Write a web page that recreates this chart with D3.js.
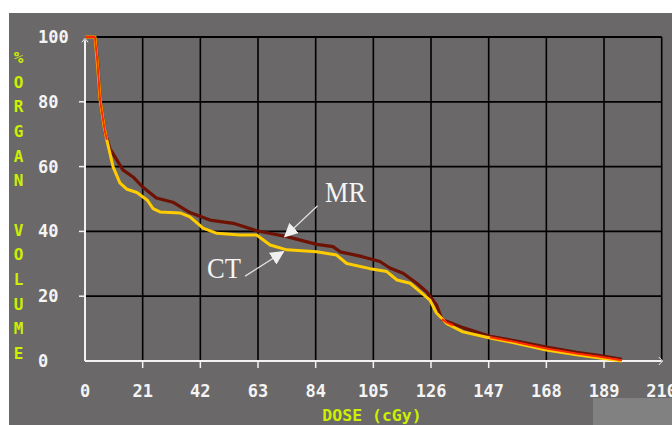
<!DOCTYPE html>
<html>
<head>
<meta charset="utf-8">
<script src="https://cdn.jsdelivr.net/npm/d3@7"></script>
<style>
  html, body { margin: 0; padding: 0; background: #fff; }
  svg { display: block; }
</style>
</head>
<body>
<div id="chart"></div>
<script>
// tick values
var xTicks = [0, 21, 42, 63, 84, 105, 126, 147, 168, 189, 210];
var yTicks = [0, 20, 40, 60, 80, 100];

// CT curve (yellow)
var ctDose = [0, 3.6, 4.5, 5.5, 7, 8, 10.2, 12.7, 15.3, 18.9, 22.6, 24.8, 27.3, 34.6, 38.2, 43, 48, 56.5, 62.5, 67.4, 73.5, 84.4, 91.6, 95.3, 103.8, 109.9, 113.6, 118.4, 122, 125.6, 128, 131.8, 137.6, 147.5, 157, 168, 179, 187.5, 195.5];
var ctPct  = [100, 100, 92, 80.5, 72, 68, 60, 55, 53, 52, 49.7, 47, 46, 45.7, 44.5, 41, 39.4, 38.9, 38.9, 35.8, 34.3, 33.7, 32.7, 30.1, 28.5, 27.6, 25, 24, 21.4, 18.8, 14.8, 11.5, 9, 7.1, 5.5, 3.4, 1.9, 0.9, 0];

// MR curve (dark red)
var mrDose = [0, 3.6, 4.5, 5.5, 7.3, 9.1, 10.9, 13.8, 17.5, 21, 26, 32, 38.2, 45.5, 54, 62.5, 73.5, 84.4, 90.3, 92.9, 101, 107.4, 111, 115.8, 120.8, 124.5, 128, 130, 134, 137.6, 147.5, 158, 168, 179, 187.5, 195.5];
var mrPct  = [100, 100, 93, 80.5, 70.5, 65.5, 63, 59, 56.8, 53.7, 50.3, 49, 45.8, 43.5, 42.5, 40.2, 38.4, 36, 35.3, 33.7, 32.2, 30.7, 28.7, 27.1, 24, 21.3, 17.3, 12.8, 11.5, 10.3, 7.6, 6, 4.3, 2.7, 1.7, 0.5];

// annotations: label, text position, arrow start, arrow tip (data units)
var notes = [
  { label: "MR", tx: 87.4, ty: 49.2, x1: 84.7, y1: 47.9, x2: 72.8, y2: 38.4 },
  { label: "CT", tx: 44.4, ty: 25.6, x1: 58.3, y1: 26.2, x2: 72.2, y2: 33.7 }
];

var yTitle = ["%", "O", "R", "G", "A", "N", " ", "V", "O", "L", "U", "M", "E"];

var W = 672, H = 425;
var svg = d3.select("#chart").append("svg")
    .attr("width", W)
    .attr("height", H);

// gray panel
svg.append("rect")
    .attr("x", 9).attr("y", 13)
    .attr("width", W - 9).attr("height", H - 13)
    .attr("fill", "#6a6868");
svg.append("rect")
    .attr("x", 593).attr("y", 398)
    .attr("width", 79).attr("height", 27)
    .attr("fill", "#818181");

var x = d3.scaleLinear().domain([0, 210]).range([85, 661.7]);
var y = d3.scaleLinear().domain([0, 100]).range([361, 37]);

// grid
svg.append("g").selectAll("line")
    .data(yTicks.slice(1))
    .enter().append("line")
    .attr("x1", x(0)).attr("x2", x(210))
    .attr("y1", function(d) { return y(d); })
    .attr("y2", function(d) { return y(d); })
    .attr("stroke", "#000").attr("stroke-width", 1.8);

svg.append("g").selectAll("line")
    .data(xTicks.slice(1))
    .enter().append("line")
    .attr("x1", function(d) { return x(d); })
    .attr("x2", function(d) { return x(d); })
    .attr("y1", y(100)).attr("y2", y(0))
    .attr("stroke", "#000").attr("stroke-width", 1.6);

// axes (white)
var axisCol = "#f2f2f2";
svg.append("line")
    .attr("x1", x(0)).attr("x2", x(0))
    .attr("y1", y(0)).attr("y2", y(99))
    .attr("stroke", axisCol).attr("stroke-width", 2);
svg.append("line")
    .attr("x1", x(0)).attr("x2", x(210))
    .attr("y1", y(0)).attr("y2", y(0))
    .attr("stroke", axisCol).attr("stroke-width", 2);
// little arrow heads
svg.append("path")
    .attr("d", "M" + (x(0) - 3) + "," + (y(99) + 2) + "L" + x(0) + "," + (y(99) - 2) + "L" + (x(0) + 3) + "," + (y(99) + 2))
    .attr("fill", "none").attr("stroke", axisCol).attr("stroke-width", 1);
svg.append("path")
    .attr("d", "M" + (x(210) - 3) + "," + (y(0) - 4) + "L" + (x(210) + 1) + "," + y(0) + "L" + (x(210) - 3) + "," + (y(0) + 4))
    .attr("fill", "none").attr("stroke", axisCol).attr("stroke-width", 1);

// tick marks
svg.append("g").selectAll("line")
    .data(yTicks.slice(1, -1))
    .enter().append("line")
    .attr("x1", x(0) - 6).attr("x2", x(0))
    .attr("y1", function(d) { return y(d); })
    .attr("y2", function(d) { return y(d); })
    .attr("stroke", axisCol).attr("stroke-width", 1.5);
svg.append("g").selectAll("line")
    .data(xTicks.slice(1, -1))
    .enter().append("line")
    .attr("x1", function(d) { return x(d); })
    .attr("x2", function(d) { return x(d); })
    .attr("y1", y(0)).attr("y2", y(0) + 7)
    .attr("stroke", axisCol).attr("stroke-width", 1.5);

// tick labels
var monoFont = "'DejaVu Sans Mono', monospace";
svg.append("g").selectAll("text")
    .data(yTicks)
    .enter().append("text")
    .attr("x", 38)
    .attr("y", function(d) { return y(d) + 6; })
    .attr("font-family", monoFont).attr("font-size", 17).attr("font-weight", "bold")
    .attr("fill", "#f4f4f4")
    .text(function(d) { return d; });

svg.append("g").selectAll("text")
    .data(xTicks)
    .enter().append("text")
    .attr("x", function(d) { return x(d); })
    .attr("y", 397)
    .attr("text-anchor", "middle")
    .attr("font-family", monoFont).attr("font-size", 17).attr("font-weight", "bold")
    .attr("fill", "#f4f4f4")
    .text(function(d) { return d; });

// axis titles
var titleCol = "#ccf000";
svg.append("g").selectAll("text")
    .data(yTitle)
    .enter().append("text")
    .attr("x", 18.5)
    .attr("y", function(d, i) { return 63 + i * 24.67; })
    .attr("text-anchor", "middle")
    .attr("font-family", monoFont).attr("font-size", 16).attr("font-weight", "bold")
    .attr("fill", titleCol)
    .text(function(d) { return d; });

svg.append("text")
    .attr("x", 372).attr("y", 421)
    .attr("text-anchor", "middle")
    .attr("font-family", monoFont).attr("font-size", 16.5).attr("font-weight", "bold")
    .attr("fill", titleCol)
    .text("DOSE (cGy)");

// curves
var ct = ctDose.map(function(d, i) { return [d, ctPct[i]]; });
var mr = mrDose.map(function(d, i) { return [d, mrPct[i]]; });
var line = d3.line()
    .x(function(d) { return x(d[0]); })
    .y(function(d) { return y(d[1]); });

svg.append("path").datum(mr)
    .attr("d", line)
    .attr("fill", "none").attr("stroke", "#6e1204").attr("stroke-width", 3.2)
    .attr("stroke-linejoin", "round");
svg.append("path").datum(ct)
    .attr("d", line)
    .attr("fill", "none").attr("stroke", "#ffcc00").attr("stroke-width", 3)
    .attr("stroke-linejoin", "round");

// where the two curves coincide they show as red
function interp(xs, ys, v) {
    var i = d3.bisectRight(xs, v);
    if (i <= 0) return ys[0];
    if (i >= xs.length) return ys[ys.length - 1];
    var t = (v - xs[i - 1]) / (xs[i] - xs[i - 1]);
    return ys[i - 1] + t * (ys[i] - ys[i - 1]);
}
var allDose = Array.from(new Set(ctDose.concat(mrDose))).sort(d3.ascending);
var both = allDose.map(function(d) {
    var a = interp(ctDose, ctPct, d), b = interp(mrDose, mrPct, d);
    return { d: d, v: (a + b) / 2, close: Math.abs(a - b) < 1.3 };
});
var redLine = d3.line()
    .defined(function(p) { return p.close; })
    .x(function(p) { return x(p.d); })
    .y(function(p) { return y(p.v); });
svg.append("path").datum(both)
    .attr("d", redLine)
    .attr("fill", "none").attr("stroke", "#ff2a00").attr("stroke-width", 2)
    .attr("stroke-linejoin", "round");

// annotations
var defs = svg.append("defs");
defs.append("marker")
    .attr("id", "head")
    .attr("viewBox", "0 0 10 10")
    .attr("refX", 9).attr("refY", 5)
    .attr("markerWidth", 14).attr("markerHeight", 14)
    .attr("markerUnits", "userSpaceOnUse")
    .attr("orient", "auto")
    .append("path")
    .attr("d", "M0,0L10,5L0,10Z")
    .attr("fill", "#f0f0f0");

var ann = svg.append("g").selectAll("g")
    .data(notes)
    .enter().append("g");
ann.append("line")
    .attr("x1", function(d) { return x(d.x1); })
    .attr("y1", function(d) { return y(d.y1); })
    .attr("x2", function(d) { return x(d.x2); })
    .attr("y2", function(d) { return y(d.y2); })
    .attr("stroke", "#e0e0e0").attr("stroke-width", 1.3)
    .attr("marker-end", "url(#head)");
ann.append("text")
    .attr("x", function(d) { return x(d.tx); })
    .attr("y", function(d) { return y(d.ty); })
    .attr("font-family", "'Liberation Serif', 'Times New Roman', serif")
    .attr("font-size", 30)
    .attr("textLength", function(d) { return d.label == "MR" ? 41 : 34; })
    .attr("lengthAdjust", "spacingAndGlyphs")
    .attr("fill", "#f4f4f4")
    .text(function(d) { return d.label; });
</script>
</body>
</html>
